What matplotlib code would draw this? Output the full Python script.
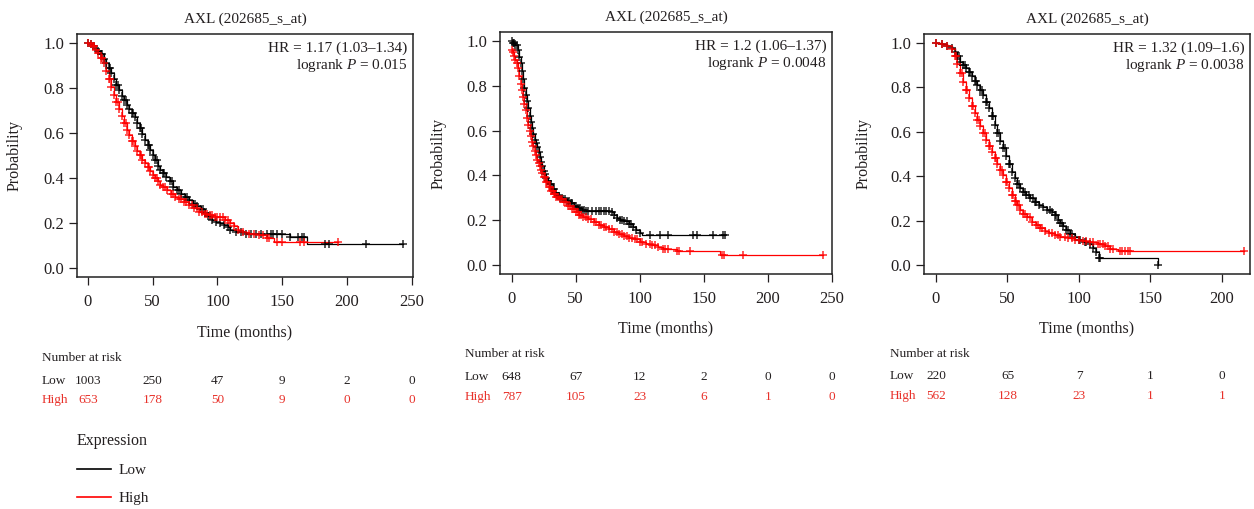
import matplotlib
matplotlib.use('Agg')
import matplotlib.pyplot as plt
import numpy as np
from matplotlib.transforms import blended_transform_factory

plt.rcParams['font.family'] = 'Liberation Serif'
plt.rcParams['mathtext.fontset'] = 'custom'
plt.rcParams['mathtext.rm'] = 'Liberation Serif'
plt.rcParams['mathtext.it'] = 'Liberation Serif:italic'

TXT = '#231f20'
BLACK = '#000000'
RED = '#ff0000'
RED_TXT = '#e8312a'

title = 'AXL (202685_s_at)'

# ---- panel 1 ----
low1_t = [0, 2, 4, 6, 8, 10, 12, 14, 16, 18, 20, 22, 24, 26, 28, 30, 32, 34, 36, 38, 40,
          42, 44, 46, 48, 50, 52, 54, 56, 58, 60, 63, 66, 69, 72, 75, 78, 81, 84, 87, 90,
          93, 96, 99, 102, 105, 108, 110, 114, 118, 122, 126, 156, 169]
low1_s = [1.0, 0.995, 0.985, 0.975, 0.965, 0.95, 0.93, 0.91, 0.89, 0.865, 0.84, 0.815, 0.79,
          0.765, 0.745, 0.725, 0.705, 0.69, 0.67, 0.645, 0.62, 0.595, 0.57, 0.545, 0.525, 0.5,
          0.48, 0.455, 0.435, 0.42, 0.405, 0.385, 0.36, 0.345, 0.33, 0.315, 0.3, 0.285, 0.275,
          0.26, 0.245, 0.23, 0.215, 0.205, 0.2, 0.19, 0.18, 0.168, 0.162, 0.158, 0.153, 0.151,
          0.136, 0.107]
low1_cens = [5, 11, 17, 23, 29, 35, 41, 47, 53, 59, 64.5, 70.5, 76.5, 82.5, 88.5, 94.5,
             130, 134, 138, 141, 143, 146, 150, 162, 165, 167, 183, 186, 215]
low1_end = 243

high1_t = [0, 2, 4, 6, 8, 10, 12, 14, 16, 18, 20, 22, 24, 26, 28, 30, 32, 34, 36, 38, 40,
           42, 44, 46, 48, 50, 52, 54, 56, 58, 61, 64, 67, 70, 74, 78, 82, 86, 90, 94, 98,
           102, 106, 110, 113, 116, 120, 124, 132, 138, 144]
high1_s = [1.0, 0.995, 0.985, 0.97, 0.955, 0.935, 0.91, 0.875, 0.84, 0.805, 0.77, 0.74, 0.705,
           0.675, 0.645, 0.615, 0.59, 0.565, 0.54, 0.52, 0.5, 0.48, 0.465, 0.447, 0.432, 0.415,
           0.4, 0.385, 0.37, 0.36, 0.345, 0.33, 0.315, 0.305, 0.295, 0.28, 0.265, 0.25, 0.24,
           0.235, 0.228, 0.225, 0.215, 0.2, 0.185, 0.17, 0.16, 0.153, 0.145, 0.132, 0.117]
high1_cens = [5, 11, 17, 23, 29, 35, 41, 47, 53, 59.5, 65.5, 72, 76, 80, 84, 88, 92, 96,
              100, 104, 108, 128, 135, 140, 146, 150, 164, 167]
high1_end = 193

# ---- panel 2 ----
low2_t = [0, 1, 3, 5, 6, 7, 8, 9, 10, 11, 12, 13, 14, 15, 16, 17, 18, 19, 20, 21, 22, 23,
          24, 25, 26, 27, 28.5, 30, 32, 34, 36, 38, 40, 43, 46, 49, 52, 55, 58, 78, 80, 82,
          85, 88, 92, 95, 97, 100, 102]
low2_s = [1.0, 0.99, 0.98, 0.96, 0.93, 0.9, 0.865, 0.83, 0.79, 0.76, 0.73, 0.7, 0.665, 0.64,
          0.61, 0.585, 0.56, 0.545, 0.525, 0.505, 0.48, 0.46, 0.44, 0.42, 0.405, 0.39, 0.375,
          0.36, 0.34, 0.32, 0.31, 0.3, 0.295, 0.285, 0.275, 0.265, 0.255, 0.245, 0.24, 0.235,
          0.225, 0.21, 0.2, 0.195, 0.185, 0.17, 0.155, 0.145, 0.133]
low2_cens = [2, 4, 31, 33, 35, 37, 39, 41.5, 44.5, 47.5, 50.5, 53.5, 56.5, 60, 63, 66, 68,
             70, 72, 74, 76, 86, 90, 93, 108, 116, 122, 142, 144.5, 157.5, 165]
low2_end = 167

high2_t = [0, 1, 2, 3, 4, 5, 6, 7, 8, 9, 10, 11, 12, 13, 14, 15, 16, 17, 18, 19, 20, 21, 22,
           23, 24, 25, 27, 29, 31, 33, 35, 38, 41, 44, 47, 50, 53, 56, 60, 64, 68, 72, 76, 80,
           84, 88, 92, 96, 100, 105, 110, 114, 118, 129, 163]
high2_s = [0.96, 0.95, 0.935, 0.915, 0.9, 0.88, 0.845, 0.81, 0.78, 0.75, 0.72, 0.69, 0.655,
           0.625, 0.6, 0.575, 0.55, 0.53, 0.51, 0.49, 0.47, 0.455, 0.44, 0.425, 0.41, 0.395,
           0.37, 0.35, 0.33, 0.315, 0.305, 0.295, 0.28, 0.265, 0.25, 0.235, 0.225, 0.215, 0.205,
           0.19, 0.18, 0.17, 0.16, 0.148, 0.14, 0.13, 0.122, 0.116, 0.105, 0.096, 0.088, 0.08,
           0.073, 0.063, 0.044]
high2_cens = [26, 28, 30, 32, 34, 36.5, 39.5, 42.5, 45.5, 48.5, 51.5, 54.5, 58, 62, 66, 70,
              74, 78, 82, 86, 90, 94, 98, 102, 108, 112, 120, 122, 131, 139, 164, 166, 181]
high2_end = 243

# ---- panel 3 ----
low3_t = [0, 4, 8, 11, 13, 15, 17, 19, 21, 23, 25, 27, 29, 31, 33, 35, 37, 39, 41, 43, 45,
          47, 49, 51, 53, 55, 57, 59, 61, 63, 66, 69, 72, 75, 78, 81, 83, 85, 87, 89, 91, 94,
          97, 100, 104, 108, 110, 112, 114, 155.5]
low3_s = [1.0, 0.995, 0.985, 0.975, 0.96, 0.94, 0.915, 0.9, 0.885, 0.87, 0.85, 0.83, 0.81,
          0.79, 0.765, 0.735, 0.705, 0.67, 0.63, 0.595, 0.56, 0.525, 0.49, 0.455, 0.42, 0.39,
          0.365, 0.345, 0.33, 0.315, 0.3, 0.285, 0.27, 0.26, 0.25, 0.24, 0.225, 0.205, 0.19,
          0.175, 0.16, 0.14, 0.128, 0.115, 0.105, 0.095, 0.075, 0.057, 0.032, 0.0]
low3_cens = [16, 20, 24, 28, 32, 36, 40, 44, 48, 52, 58, 62, 65, 68, 70, 80, 84, 88, 92, 95,
             101, 105, 114.5]
low3_end = 155.5

high3_t = [0, 4, 8, 11, 13, 15, 17, 19, 21, 23, 25, 27, 29, 31, 33, 35, 37, 39, 41, 43, 45,
           47, 49, 51, 53, 55, 57, 59, 61, 64, 67, 70, 73, 76, 79, 83, 87, 92, 97, 103, 108,
           113, 118, 122, 127]
high3_s = [1.0, 0.995, 0.985, 0.973, 0.94, 0.905, 0.865, 0.825, 0.79, 0.75, 0.715, 0.685,
           0.655, 0.625, 0.595, 0.565, 0.535, 0.51, 0.48, 0.455, 0.43, 0.405, 0.375, 0.345,
           0.315, 0.29, 0.27, 0.25, 0.232, 0.215, 0.195, 0.18, 0.165, 0.152, 0.145, 0.135,
           0.128, 0.12, 0.112, 0.108, 0.102, 0.095, 0.085, 0.072, 0.063]
high3_cens = [14, 18, 22, 26, 30, 34, 38, 42, 46, 50, 54, 56, 58, 62.5, 65.5, 71.5, 74.5,
              81, 85, 90, 95, 100, 105, 110, 115, 117, 120, 124, 129, 130, 132, 134, 136]
high3_end = 215.5

# ---- stats / risk tables ----
hr_text = ['HR = 1.17 (1.03\u20131.34)', 'HR = 1.2 (1.06\u20131.37)', 'HR = 1.32 (1.09\u20131.6)']
p_text = ['0.015', '0.0048', '0.0038']
xticks1 = [0, 50, 100, 150, 200, 250]
xticks2 = [0, 50, 100, 150, 200, 250]
xticks3 = [0, 50, 100, 150, 200]
risk1_low = [1003, 250, 47, 9, 2, 0]
risk1_high = [653, 178, 50, 9, 0, 0]
risk2_low = [648, 67, 12, 2, 0, 0]
risk2_high = [787, 105, 23, 6, 1, 0]
risk3_low = [220, 65, 7, 1, 0]
risk3_high = [562, 128, 23, 1, 1]


def km(ax, t, s, cens, end, color):
    tt = np.array(list(t) + [end], dtype=float)
    ss = np.array(list(s) + [s[-1]], dtype=float)
    line, = ax.plot(tt, ss, drawstyle='steps-post', color=color, lw=0.9, zorder=2)
    ct = np.concatenate([tt[:-2], np.array(cens, dtype=float), [end]])
    idx = np.searchsorted(tt, ct, side='right') - 1
    ax.plot(ct, ss[idx], linestyle='none', marker='+', ms=6, mew=1.1,
            color=color, alpha=0.85, zorder=3)
    return line


def panel(ax, curves, xlim, ticks, hr, p, rlow, rhigh):
    lines = []
    for t, s, c, e, col in curves:
        lines.append(km(ax, t, s, c, e, col))
    ax.set_xlim(*xlim)
    ax.set_ylim(-0.04, 1.04)
    ax.set_xticks(ticks)
    ax.set_yticks([0, 0.2, 0.4, 0.6, 0.8, 1.0])
    ax.set_yticklabels(['0.0', '0.2', '0.4', '0.6', '0.8', '1.0'])
    ax.tick_params(direction='out', length=5.5, width=0.9, labelsize=12,
                   colors=TXT, labelcolor=TXT)
    ax.tick_params(axis='x', pad=7)
    ax.tick_params(axis='y', pad=3.5)
    for sp in ax.spines.values():
        sp.set_linewidth(1.1)
        sp.set_color('#222222')
    ax.text(0.5, 1.06, title, transform=ax.transAxes, ha='center', va='center',
            fontsize=11, color=TXT)
    ax.annotate(hr, xy=(1, 1), xycoords='axes fraction', xytext=(-4, -10),
                textcoords='offset points', ha='right', va='center', fontsize=11, color=TXT)
    ax.annotate('logrank $P$ = ' + p, xy=(1, 1), xycoords='axes fraction', xytext=(-4, -23),
                textcoords='offset points', ha='right', va='center', fontsize=11, color=TXT)
    ax.set_xlabel('Time (months)', fontsize=11.5, color=TXT)
    ax.xaxis.set_label_coords(0.5, -0.226)
    ax.xaxis.label.set_va('center')
    ax.set_ylabel('Probability', fontsize=11.5, color=TXT)
    ax.yaxis.set_label_coords(-0.186, 0.5)
    ax.yaxis.label.set_va('center')

    # number at risk table
    bt = blended_transform_factory(ax.transData, ax.transAxes)
    ax.text(-0.105, -0.332, 'Number at risk', transform=ax.transAxes, ha='left',
            va='center', fontsize=9.5, color=TXT)
    ax.text(-0.105, -0.427, 'Low', transform=ax.transAxes, ha='left', va='center',
            fontsize=9.5, color=TXT)
    ax.text(-0.105, -0.507, 'High', transform=ax.transAxes, ha='left', va='center',
            fontsize=9.5, color=RED_TXT)
    for x, n in zip(ticks, rlow):
        ax.text(x, -0.427, str(n), transform=bt, ha='center', va='center',
                fontsize=9.5, color=TXT)
    for x, n in zip(ticks, rhigh):
        ax.text(x, -0.507, str(n), transform=bt, ha='center', va='center',
                fontsize=9.5, color=RED_TXT)
    return lines


fig = plt.figure(figsize=(12.54, 5.09), dpi=100)
ax1 = fig.add_axes([0.0614, 0.4558, 0.2679, 0.4774])
ax2 = fig.add_axes([0.3987, 0.4617, 0.2648, 0.4754])
ax3 = fig.add_axes([0.7368, 0.4617, 0.2600, 0.4715])

lines = panel(ax1, [(low1_t, low1_s, low1_cens, low1_end, BLACK),
                    (high1_t, high1_s, high1_cens, high1_end, RED)],
              (-8.5, 251), xticks1, hr_text[0], p_text[0], risk1_low, risk1_high)
panel(ax2, [(low2_t, low2_s, low2_cens, low2_end, BLACK),
            (high2_t, high2_s, high2_cens, high2_end, RED)],
      (-9.1, 250.2), xticks2, hr_text[1], p_text[1], risk2_low, risk2_high)
panel(ax3, [(low3_t, low3_s, low3_cens, low3_end, BLACK),
            (high3_t, high3_s, high3_cens, high3_end, RED)],
      (-8.4, 219.6), xticks3, hr_text[2], p_text[2], risk3_low, risk3_high)

leg = fig.legend(lines, ['Low', 'High'], title='Expression', loc='upper left',
                 bbox_to_anchor=(77 / 1254, 1 - 433 / 509), frameon=False, fontsize=11,
                 title_fontsize=11.5, alignment='left', handlelength=2.2, handletextpad=0.5,
                 labelspacing=0.95, borderpad=0, borderaxespad=0)
for h in leg.legend_handles:
    h.set_linewidth(1.2)
for txt in leg.get_texts():
    txt.set_color(TXT)
leg.get_title().set_color(TXT)

fig.savefig('out.png', dpi=100)
